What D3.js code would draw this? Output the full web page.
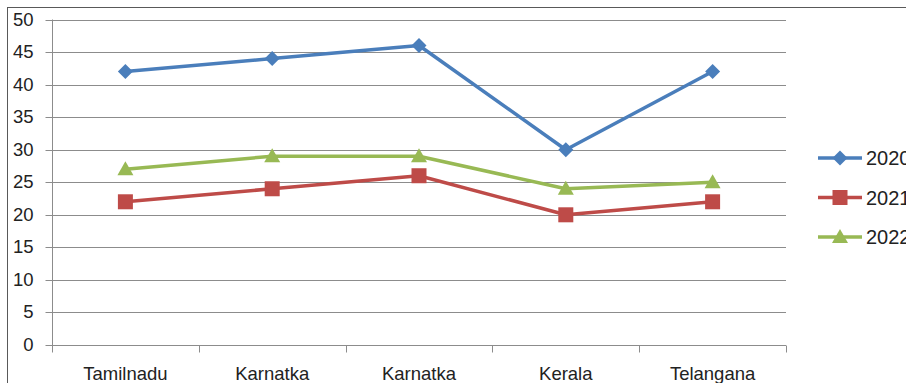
<!DOCTYPE html>
<html><head><meta charset="utf-8">
<script src="https://cdn.jsdelivr.net/npm/d3@7"></script>
<style>html,body{margin:0;padding:0;background:#fff;overflow:hidden}</style>
</head><body>
<svg id="c" width="906" height="383"></svg>
<script>
const categories = ["Tamilnadu","Karnatka","Karnatka","Kerala","Telangana"];
const seriesNames = ["2020","2021","2022"];
const values2020 = [42,44,46,30,42];
const values2021 = [22,24,26,20,22];
const values2022 = [27,29,29,24,25];
const yTicks = [0,5,10,15,20,25,30,35,40,45,50];
const colors = ["#4A7EBB","#BE4B48","#98B954"];
const shapes = ["diamond","square","triangle"];

const series = [values2020, values2021, values2022];
const svg = d3.select("#c");
const font = "'Liberation Sans', Arial, sans-serif";

// frame
svg.append("rect").attr("x",7.5).attr("y",7.5).attr("width",1000).attr("height",1000)
  .attr("fill","none").attr("stroke","#595959").attr("stroke-width",1);

const L=52, R=786, T=19.5, B=345;
const x = d3.scaleBand().domain(d3.range(categories.length)).range([L,R]).paddingInner(0).paddingOuter(0);
const y = d3.scaleLinear().domain([0,50]).range([B,T]);
const grey = "#8C8C8C";

// gridlines
svg.append("g").selectAll("line").data(yTicks.filter(d=>d>0)).join("line")
  .attr("x1",L).attr("x2",R).attr("y1",d=>Math.round(y(d))+0.5).attr("y2",d=>Math.round(y(d))+0.5)
  .attr("stroke",grey).attr("stroke-width",1);

// y axis
const ya = svg.append("g").attr("transform",`translate(${L+0.5},0)`)
  .call(d3.axisLeft(y).tickValues(yTicks).tickSize(7).tickPadding(12));
ya.select(".domain").attr("stroke",grey).attr("d",`M0,${T}V${B}`);
ya.selectAll(".tick line").attr("stroke",grey);
ya.selectAll(".tick").attr("transform",d=>`translate(0,${Math.round(y(d))+0.5})`);
ya.selectAll("text").attr("font-family",font).attr("font-size",18.5).attr("fill","#222");

// x axis
const xa = svg.append("g").attr("transform",`translate(0,${B+0.5})`);
xa.append("line").attr("x1",L).attr("x2",R).attr("stroke",grey);
const bounds = d3.range(categories.length+1).map(i=> i<categories.length ? x(i) : x(categories.length-1)+x.bandwidth());
xa.selectAll("line.t").data(bounds).join("line").attr("class","t")
  .attr("x1",d=>Math.round(d)+0.5).attr("x2",d=>Math.round(d)+0.5).attr("y1",0).attr("y2",7).attr("stroke",grey);
xa.selectAll("text").data(categories).join("text")
  .attr("x",(d,i)=>x(i)+x.bandwidth()/2).attr("y",34)
  .attr("text-anchor","middle").attr("font-family",font).attr("font-size",18.5).attr("fill","#222")
  .text(d=>d);

function marker(g, shape, color){
  if(shape==="diamond"){
    g.append("path").attr("d","M0,-7.5L7.5,0L0,7.5L-7.5,0Z").attr("fill",color);
  } else if(shape==="square"){
    g.append("rect").attr("x",-7.5).attr("y",-7.5).attr("width",15).attr("height",15).attr("fill",color);
  } else {
    g.append("path").attr("d","M0,-8L8,6L-8,6Z").attr("fill",color);
  }
}

const line = d3.line().x((d,i)=>x(i)+x.bandwidth()/2).y(d=>y(d));
series.forEach((vals,si)=>{
  svg.append("path").datum(vals).attr("d",line).attr("fill","none")
    .attr("stroke",colors[si]).attr("stroke-width",3.5).attr("stroke-linejoin","round");
});
series.forEach((vals,si)=>{
  vals.forEach((v,i)=>{
    const g = svg.append("g").attr("transform",`translate(${x(i)+x.bandwidth()/2},${y(v)})`);
    marker(g, shapes[si], colors[si]);
  });
});

// legend
const legY = [158,197.5,237];
seriesNames.forEach((n,si)=>{
  const g = svg.append("g").attr("transform",`translate(0,${legY[si]})`);
  g.append("line").attr("x1",818).attr("x2",862).attr("stroke",colors[si]).attr("stroke-width",3.5);
  const m = g.append("g").attr("transform","translate(840,0)");
  marker(m, shapes[si], colors[si]);
  g.append("text").attr("x",866).attr("y",7).attr("font-family",font).attr("font-size",20).attr("fill","#222").text(n);
});
</script>
</body></html>
